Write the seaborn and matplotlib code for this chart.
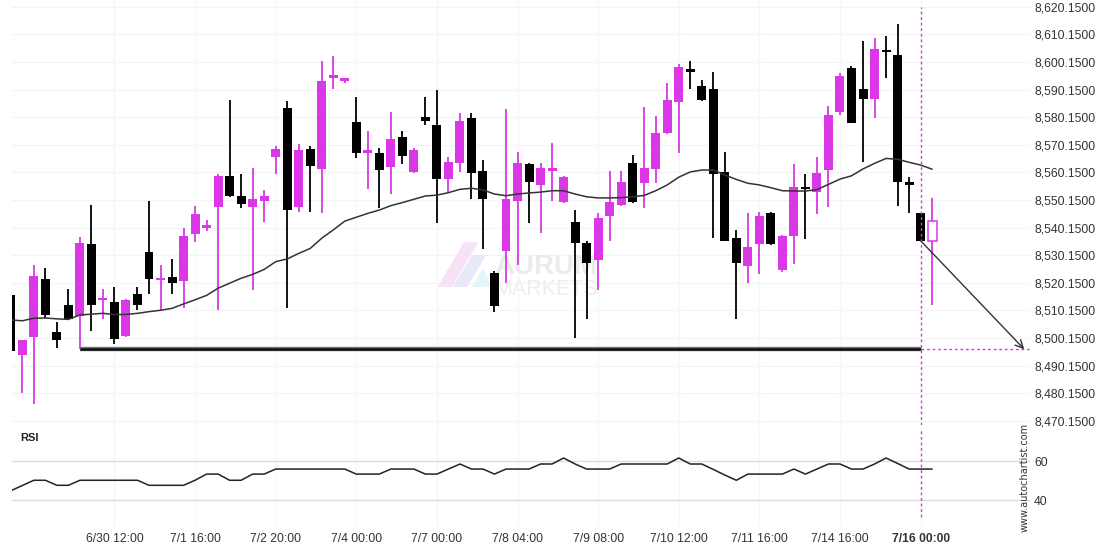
import matplotlib
matplotlib.use("Agg")
import matplotlib.pyplot as plt
from matplotlib.patches import Polygon
import numpy as np
import pandas as pd
import seaborn as sns

# ---------------- data ----------------
opens = [8515.7, 8494.1, 8500.6, 8521.5, 8502.3, 8512.1, 8508.1, 8534.2, 8514.0, 8513.1,
         8500.9, 8516.1, 8531.3, 8521.3, 8522.2, 8520.9, 8537.9, 8540.1, 8547.7, 8558.8,
         8551.7, 8547.7, 8549.9, 8565.8, 8583.5, 8547.7, 8568.6, 8561.5, 8594.4, 8593.3,
         8578.4, 8567.3, 8567.1, 8562.2, 8573.0, 8560.4, 8580.1, 8577.3, 8557.9, 8563.6,
         8579.7, 8560.6, 8523.7, 8531.8, 8549.9, 8563.2, 8555.7, 8560.7, 8549.4, 8542.2,
         8534.7, 8528.4, 8544.5, 8548.4, 8563.5, 8556.4, 8561.5, 8574.4, 8585.7, 8597.6,
         8591.4, 8590.3, 8560.3, 8536.4, 8526.3, 8534.3, 8545.4, 8524.8, 8537.2, 8554.5,
         8553.1, 8561.1, 8582.1, 8597.8, 8590.3, 8586.8, 8604.3, 8602.7, 8556.5, 8545.4, 8535.4]
highs = [8516.5, 8499.6, 8526.5, 8525.4, 8506.1, 8517.8, 8536.8, 8548.3, 8517.8, 8518.7,
         8514.3, 8518.7, 8549.9, 8526.5, 8528.7, 8539.9, 8548.0, 8542.9, 8559.4, 8586.4,
         8559.4, 8561.6, 8553.8, 8569.7, 8586.1, 8570.3, 8569.7, 8600.5, 8602.3, 8594.4,
         8587.6, 8575.0, 8568.9, 8581.9, 8575.1, 8568.9, 8587.6, 8590.0, 8565.8, 8581.5,
         8581.5, 8564.6, 8524.4, 8583.1, 8567.4, 8563.4, 8563.4, 8570.7, 8558.8, 8546.5,
         8535.2, 8545.3, 8560.6, 8560.6, 8566.4, 8583.7, 8580.5, 8592.5, 8599.3, 8600.5,
         8593.6, 8596.4, 8567.6, 8539.2, 8545.3, 8545.9, 8545.8, 8537.5, 8563.1, 8559.4,
         8565.8, 8584.3, 8596.0, 8598.8, 8607.7, 8608.7, 8609.5, 8613.8, 8558.4, 8545.5, 8550.8]
lows = [8495.4, 8480.1, 8476.3, 8507.3, 8496.4, 8506.7, 8496.1, 8502.8, 8506.9, 8497.9,
        8500.6, 8510.3, 8516.1, 8510.3, 8516.0, 8510.9, 8535.0, 8539.0, 8510.3, 8551.1,
        8547.1, 8517.5, 8542.3, 8559.4, 8510.9, 8545.9, 8545.9, 8545.3, 8590.2, 8592.4,
        8565.2, 8554.0, 8547.1, 8552.3, 8563.2, 8560.0, 8577.3, 8541.7, 8552.6, 8560.4,
        8550.4, 8532.3, 8509.5, 8520.0, 8526.5, 8541.9, 8538.1, 8549.9, 8549.2, 8500.0,
        8506.9, 8517.5, 8535.2, 8548.1, 8549.2, 8547.1, 8556.4, 8574.2, 8567.3, 8590.2,
        8586.1, 8536.3, 8535.2, 8507.0, 8520.0, 8523.2, 8533.8, 8524.0, 8526.8, 8535.9,
        8545.0, 8547.7, 8580.9, 8577.9, 8564.0, 8579.7, 8594.2, 8548.1, 8545.3, 8535.3, 8512.1]
closes = [8495.6, 8499.4, 8522.6, 8508.5, 8499.5, 8506.9, 8534.6, 8512.1, 8514.3, 8499.8,
          8513.9, 8512.1, 8521.4, 8521.9, 8520.2, 8537.1, 8545.1, 8541.1, 8558.8, 8551.7,
          8548.7, 8550.5, 8551.6, 8568.6, 8546.6, 8568.2, 8562.5, 8593.2, 8595.5, 8594.3,
          8567.3, 8568.2, 8561.1, 8572.2, 8566.2, 8568.2, 8578.9, 8557.9, 8563.8, 8578.7,
          8559.8, 8550.6, 8511.9, 8550.5, 8563.5, 8556.8, 8561.7, 8561.7, 8558.6, 8534.7,
          8527.4, 8543.6, 8549.4, 8556.7, 8549.4, 8561.7, 8574.4, 8586.4, 8598.3, 8596.6,
          8586.4, 8559.7, 8535.4, 8527.4, 8533.1, 8544.3, 8534.2, 8537.1, 8554.8, 8554.2,
          8559.9, 8580.9, 8595.0, 8578.1, 8586.8, 8604.8, 8603.9, 8556.8, 8555.7, 8535.4, 8542.4]
moving_avg = [8506.7, 8506.4, 8507.3, 8507.4, 8507.1, 8506.9, 8508.5, 8508.8, 8509.1, 8508.6,
              8508.7, 8509.1, 8509.7, 8510.2, 8510.9, 8512.5, 8514.0, 8515.6, 8518.2, 8520.0,
              8521.8, 8523.2, 8525.0, 8527.8, 8528.8, 8530.8, 8532.6, 8536.3, 8539.3, 8542.5,
              8543.9, 8545.3, 8546.5, 8548.1, 8549.2, 8550.4, 8551.6, 8551.9, 8552.8, 8554.0,
              8554.4, 8553.8, 8552.3, 8551.7, 8552.3, 8552.7, 8553.0, 8553.5, 8553.5, 8552.3,
              8551.3, 8550.9, 8550.9, 8551.0, 8551.3, 8551.8, 8553.5, 8555.6, 8558.4, 8560.3,
              8561.0, 8561.0, 8559.2, 8557.6, 8556.2, 8555.6, 8554.6, 8553.5, 8553.4, 8553.4,
              8553.9, 8555.8, 8557.7, 8558.9, 8561.4, 8563.4, 8565.2, 8564.9, 8563.8, 8562.8, 8561.3]
rsi = [44.8, 47.5, 50.2, 50.2, 47.6, 47.6, 50.2, 50.2, 50.2, 50.2,
       50.2, 50.2, 47.6, 47.6, 47.6, 47.6, 50.2, 53.4, 53.4, 50.2,
       50.2, 53.4, 53.4, 56.0, 56.0, 56.0, 56.0, 56.0, 56.0, 56.0,
       53.4, 53.4, 53.4, 56.0, 56.0, 56.0, 53.4, 53.4, 56.0, 58.6,
       56.0, 56.0, 53.4, 56.0, 56.0, 56.0, 58.6, 58.6, 61.7, 58.6,
       56.0, 56.0, 56.0, 58.6, 58.6, 58.6, 58.6, 58.6, 61.7, 58.6,
       58.6, 55.8, 52.9, 50.2, 53.4, 53.4, 53.4, 53.4, 56.0, 53.4,
       56.0, 58.6, 58.6, 56.0, 56.0, 58.6, 61.7, 58.9, 56.0, 56.0, 56.0]
tick_labels = ["6/30 12:00", "7/1 16:00", "7/2 20:00", "7/4 00:00", "7/7 00:00",
               "7/8 04:00", "7/9 08:00", "7/10 12:00", "7/11 16:00", "7/14 16:00",
               "7/16 00:00"]
price_levels = [8470.15 + 10 * k for k in range(16)]
rsi_levels = [40, 60]
support_level = 8496.1
support_start = 6        # candle index where the support line starts
signal_candle = 79       # candle index of the breakout / dashed marker
target_index = 88.0      # projection end (in candle units)
first_tick, tick_step = 9, 7

# ---------------- style ----------------
sns.set_theme(style="white")
plt.rcParams["font.family"] = ["Liberation Sans", "DejaVu Sans"]

MAG = "#DA37E6"
TXT = "#333333"
n = len(opens)
idx = np.arange(n)
df = pd.DataFrame({"i": idx, "open": opens, "high": highs, "low": lows,
                   "close": closes, "ma": moving_avg, "rsi": rsi})

fig = plt.figure(figsize=(11.1, 5.5), dpi=100)
W, H = 1110.0, 550.0
ax = fig.add_axes([12 / W, 1 - 425 / H, 1018 / W, 425 / H])
axr = fig.add_axes([12 / W, 1 - 525 / H, 1018 / W, 97 / H])

xlim = (0.104, 88.5)
for a in (ax, axr):
    a.set_xlim(*xlim)
    for s in a.spines.values():
        s.set_visible(False)

ax.set_ylim(8468.65, 8622.58)
axr.set_ylim(27.1, 77.2)

tick_idx = [first_tick + tick_step * k for k in range(len(tick_labels))]

# grid
for y in price_levels:
    ax.axhline(y, color="#f4f4f4", lw=0.9, zorder=0)
for x in tick_idx:
    ax.axvline(x, color="#f6f6f6", lw=0.9, zorder=0)
    axr.axvline(x, color="#f6f6f6", lw=0.9, zorder=0)
for y in rsi_levels:
    axr.axhline(y, color="#dddddd", lw=1.0, zorder=0)

# watermark
ax.text(0.474, 0.372, "AURUM", transform=ax.transAxes, fontsize=20, fontweight="bold",
        color="#ebebeb", ha="left", va="center", zorder=1)
ax.text(0.474, 0.318, "MARKETS", transform=ax.transAxes, fontsize=15.5,
        color="#eeeeee", ha="left", va="center", zorder=1)
for pts, c in [([(0.418, 0.325), (0.432, 0.325), (0.458, 0.43), (0.444, 0.43)], "#f6e2f6"),
               ([(0.433, 0.325), (0.447, 0.325), (0.466, 0.40), (0.452, 0.40)], "#e8e8fb"),
               ([(0.452, 0.325), (0.471, 0.325), (0.463, 0.37)], "#e4f5fb")]:
    ax.add_patch(Polygon(pts, closed=True, transform=ax.transAxes, facecolor=c,
                         edgecolor="none", zorder=1))

# candles
bw = 0.78
for r in df.itertuples():
    last = r.i == n - 1
    up = r.close > r.open
    col = MAG if (up or last) else "black"
    ax.vlines(r.i, r.low, r.high, color=col, lw=1.3, zorder=2)
    lo = min(r.open, r.close)
    hgt = max(abs(r.close - r.open), 0.6)
    if last:
        ax.bar(r.i, hgt, bottom=lo, width=bw, facecolor="white", edgecolor=MAG,
               linewidth=1.1, zorder=3)
    else:
        ax.bar(r.i, hgt, bottom=lo, width=bw, color=col, linewidth=0, zorder=3)

# moving average
sns.lineplot(data=df, x="i", y="ma", ax=ax, color="#333333", lw=1.1, zorder=4)

# support line
ax.hlines(support_level, support_start, signal_candle, color="#777777", lw=3.2, zorder=5)
ax.hlines(support_level, support_start, signal_candle, color="#111111", lw=1.8, zorder=6)
ax.hlines(support_level, signal_candle, xlim[1], color=MAG, lw=1.0,
          linestyles=(0, (2, 2)), zorder=6)
ax.vlines(signal_candle, ax.get_ylim()[0], price_levels[-1], color=MAG, lw=1.0,
          linestyles=(0, (2, 2)), zorder=6)
axr.axvline(signal_candle, ymin=0.08, ymax=1, color=MAG, lw=1.0, ls=(0, (2, 2)), zorder=6)

# projection arrow
ax.annotate("", xy=(target_index, support_level), xytext=(signal_candle, closes[signal_candle]),
            arrowprops=dict(arrowstyle="->", color="#333333", lw=1.0,
                            shrinkA=0, shrinkB=0, mutation_scale=14), zorder=7)

# RSI
sns.lineplot(data=df, x="i", y="rsi", ax=axr, color="#222222", lw=1.1, zorder=3)

# axes ticks
ax.yaxis.tick_right()
ax.set_yticks(price_levels)
ax.set_yticklabels([f"{v:,.4f}" for v in price_levels])
ax.tick_params(axis="y", length=0, pad=3, labelsize=8.7, labelcolor=TXT)
ax.set_xticks([])
ax.set_xlabel("")
ax.set_ylabel("")

axr.yaxis.tick_right()
axr.set_yticks(rsi_levels)
axr.set_yticklabels([str(v) for v in rsi_levels])
axr.tick_params(axis="y", length=0, pad=3, labelsize=8.7, labelcolor=TXT)
axr.set_xticks(tick_idx)
axr.set_xticklabels(tick_labels)
axr.tick_params(axis="x", length=0, pad=6, labelsize=8.7, labelcolor=TXT)
axr.get_xticklabels()[-1].set_fontweight("bold")
axr.set_xlabel("")
axr.set_ylabel("")

axr.text(0.008, 0.9, "RSI", transform=axr.transAxes, ha="left", va="center",
         fontsize=8, color="#222222", fontweight="bold")

fig.text(1025 / W, 1 - 477 / H, "www.autochartist.com", rotation=90, ha="center",
         va="center", fontsize=7, color="#333333", family="DejaVu Sans")

fig.savefig("out.png", dpi=100)
